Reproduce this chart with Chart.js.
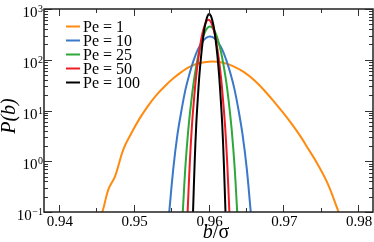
<!DOCTYPE html>
<html>
<head>
<meta charset="utf-8">
<script src="https://cdn.jsdelivr.net/npm/chart.js@4.4.1/dist/chart.umd.min.js"></script>
<style>
  html, body { margin: 0; padding: 0; background: #fff; }
  #box { width: 374px; height: 242px; }
</style>
</head>
<body>
<div id="box"><canvas id="chart"></canvas></div>
<script>
// data
const peValues = [1, 10, 25, 50, 100];
const peColors = ['#ff8a10', '#3a78c9', '#2fa83a', '#ee1c24', '#000000'];

const pe1B = [0.9440, 0.9458, 0.9466, 0.9475, 0.9486, 0.9497, 0.9508, 0.9519, 0.9530, 0.9542, 0.9553, 0.9565, 0.9576, 0.9590, 0.9604,
              0.9618, 0.9632, 0.9647, 0.9662, 0.9678, 0.9689, 0.9700, 0.9712, 0.9723, 0.9734, 0.9745, 0.9759, 0.9774, 0.9790];
const pe1P = [0.02, 0.1, 0.276, 0.505, 1.69, 3.6, 7.0, 12.2, 19.8, 30.5, 43, 59, 74, 87, 92.6,
              88.5, 76, 57.5, 38.5, 21.9, 14.1, 8.93, 5.25, 3.09, 1.70, 0.927, 0.374, 0.1, 0.025];

const pe10B = [0.95421, 0.95475, 0.95530, 0.95584, 0.95639, 0.95693, 0.95748, 0.95802, 0.95857, 0.95911, 0.95966, 0.9602,
               0.96075, 0.96129, 0.96184, 0.96238, 0.96293, 0.96347, 0.96402, 0.96456, 0.96511, 0.96565, 0.96620];
const pe10P = [0.0136, 0.1, 0.73, 3.3, 10.1, 26.4, 54, 98, 158, 218, 268, 288,
               268, 218, 158, 98, 54, 26.4, 10.1, 3.3, 0.73, 0.1, 0.0136];

const pe25B = [0.95620, 0.95656, 0.95692, 0.95729, 0.95765, 0.95802, 0.95838, 0.95874, 0.95911, 0.95947, 0.95984, 0.9602,
               0.96056, 0.96093, 0.96129, 0.96166, 0.96202, 0.96238, 0.96275, 0.96311, 0.96348, 0.96384, 0.96420];
const pe25P = [0.0122, 0.1, 0.82, 4.06, 13.2, 36.1, 77, 145, 240, 337, 419, 452,
               419, 337, 240, 145, 77, 36.1, 13.2, 4.06, 0.82, 0.1, 0.0122];

const pe50B = [0.95693, 0.95721, 0.95749, 0.95777, 0.95805, 0.95833, 0.95861, 0.95888, 0.95916, 0.95944, 0.95972, 0.9600,
               0.96028, 0.96056, 0.96084, 0.96112, 0.96140, 0.96167, 0.96195, 0.96223, 0.96251, 0.96279, 0.96307];
const pe50P = [0.0113, 0.1, 0.885, 4.64, 15.7, 44.8, 98, 189, 318, 451, 566, 612,
               566, 451, 318, 189, 98, 44.8, 15.7, 4.64, 0.885, 0.1, 0.0113];

const pe100B = [0.95771, 0.95793, 0.95815, 0.95836, 0.95858, 0.95880, 0.95902, 0.95923, 0.95945, 0.95967, 0.95988, 0.9601,
                0.96032, 0.96053, 0.96075, 0.96097, 0.96119, 0.96140, 0.96162, 0.96184, 0.96205, 0.96227, 0.96249];
const pe100P = [0.0106, 0.1, 0.944, 5.2, 18.3, 53.7, 120.5, 236, 405, 580, 733, 794,
                733, 580, 405, 236, 120.5, 53.7, 18.3, 5.2, 0.944, 0.1, 0.0106];

const xTicks = [0.94, 0.95, 0.96, 0.97, 0.98];
const xMinorTicks = [0.945, 0.955, 0.965, 0.975];
const yExponents = [-1, 0, 1, 2, 3];

const seriesB = [pe1B, pe10B, pe25B, pe50B, pe100B];
const seriesP = [pe1P, pe10P, pe25P, pe50P, pe100P];

const SERIF = '"Liberation Serif", "Times New Roman", serif';

function makeData(bs, ps) {
    return bs.map((b, i) => ({ x: b, y: ps[i] }));
}

const datasets = peValues.map((pe, i) => ({
    label: 'Pe = ' + pe,
    data: makeData(seriesB[i], seriesP[i]),
    borderColor: peColors[i],
    backgroundColor: peColors[i],
    borderWidth: 2,
    pointRadius: 0,
    showLine: true,
    tension: 0.4,
    clip: 0,
    order: peValues.length - i
}));

// frame, inward ticks, tick labels, axis titles and legend
const decorPlugin = {
    id: 'decor',
    afterDraw(chart) {
        const ctx = chart.ctx;
        const area = chart.chartArea;
        const xs = chart.scales.x;
        const ys = chart.scales.y;
        ctx.save();

        // ticks
        ctx.strokeStyle = '#333';
        ctx.lineWidth = 1;
        function vTick(px, len) {
            ctx.beginPath();
            ctx.moveTo(px, area.bottom); ctx.lineTo(px, area.bottom - len);
            ctx.moveTo(px, area.top); ctx.lineTo(px, area.top + len);
            ctx.stroke();
        }
        function hTick(py, len) {
            ctx.beginPath();
            ctx.moveTo(area.left, py); ctx.lineTo(area.left + len, py);
            ctx.moveTo(area.right, py); ctx.lineTo(area.right - len, py);
            ctx.stroke();
        }
        xTicks.forEach(v => vTick(Math.round(xs.getPixelForValue(v)) + 0.5, 7));
        xMinorTicks.forEach(v => vTick(Math.round(xs.getPixelForValue(v)) + 0.5, 4));
        yExponents.forEach(e => {
            hTick(Math.round(ys.getPixelForValue(Math.pow(10, e))) + 0.5, 8);
            if (e < 3) {
                for (let m = 2; m <= 9; m++) {
                    hTick(Math.round(ys.getPixelForValue(m * Math.pow(10, e))) + 0.5, 4);
                }
            }
        });

        // frame
        ctx.strokeStyle = '#222';
        ctx.lineWidth = 1.5;
        ctx.strokeRect(area.left, area.top, area.right - area.left, area.bottom - area.top);

        // x tick labels
        ctx.fillStyle = '#000';
        ctx.font = '15px ' + SERIF;
        ctx.textAlign = 'center';
        ctx.textBaseline = 'alphabetic';
        xTicks.forEach(v => {
            ctx.fillText(v.toFixed(2), xs.getPixelForValue(v) + 1, area.bottom + 14);
        });

        // y tick labels: 10 with superscript exponent
        yExponents.forEach(e => {
            const py = ys.getPixelForValue(Math.pow(10, e));
            const expText = e < 0 ? '\u2212' + Math.abs(e) : String(e);
            ctx.font = '10px ' + SERIF;
            const ew = ctx.measureText(expText).width;
            const right = area.left - 1;
            ctx.textAlign = 'left';
            ctx.fillText(expText, right - ew, py + 3);
            ctx.font = '15px ' + SERIF;
            ctx.textAlign = 'right';
            ctx.fillText('10', right - ew - 0.5, py + 8);
        });

        // x axis title: b/σ
        ctx.textAlign = 'left';
        ctx.font = 'italic 20px ' + SERIF;
        const wb = ctx.measureText('b').width;
        ctx.font = '20px ' + SERIF;
        const ws = ctx.measureText('/\u03c3').width;
        let tx = 216 - (wb + ws) / 2;
        ctx.font = 'italic 20px ' + SERIF;
        ctx.fillText('b', tx, 238);
        ctx.font = '20px ' + SERIF;
        ctx.fillText('/\u03c3', tx + wb, 238);

        // y axis title: P(b)
        ctx.save();
        ctx.translate(15, 116);
        ctx.rotate(-Math.PI / 2);
        ctx.textAlign = 'center';
        ctx.font = 'italic 20px ' + SERIF;
        ctx.fillText('P(b)', 0, 0);
        ctx.restore();

        // legend
        ctx.font = '16px ' + SERIF;
        ctx.textAlign = 'left';
        chart.data.datasets.forEach((ds, i) => {
            const ly = 26.5 + i * 14;
            ctx.strokeStyle = ds.borderColor;
            ctx.lineWidth = 2;
            ctx.beginPath();
            ctx.moveTo(66, ly); ctx.lineTo(80, ly);
            ctx.stroke();
            ctx.fillStyle = '#000';
            ctx.fillText(ds.label, 83, ly + 5);
        });

        ctx.restore();
    }
};

const chartCanvas = document.getElementById('chart');
const probChart = new Chart(chartCanvas.getContext('2d'), {
    type: 'scatter',
    data: { datasets: datasets },
    options: {
        responsive: true,
        maintainAspectRatio: false,
        animation: false,
        layout: { padding: { left: 44, top: 9, right: 1, bottom: 30 } },
        plugins: {
            legend: { display: false },
            tooltip: { enabled: false }
        },
        scales: {
            x: { type: 'linear', min: 0.938, max: 0.982, display: false },
            y: { type: 'logarithmic', min: 0.1, max: 1000, display: false }
        }
    },
    plugins: [decorPlugin]
});
</script>
</body>
</html>
